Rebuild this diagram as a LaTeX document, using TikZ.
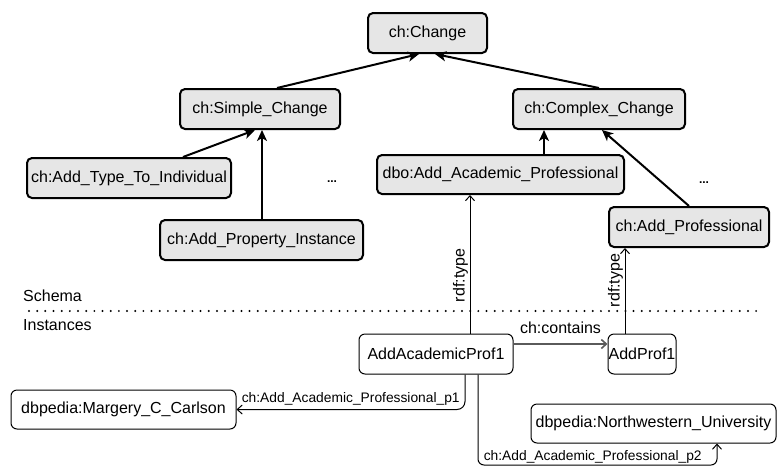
\documentclass[tikz,border=0pt]{standalone}
\usepackage{fontspec}
\setmainfont{Liberation Sans}
\usetikzlibrary{arrows.meta}

\definecolor{schemafill}{HTML}{E6E6E6}
\definecolor{containsgray}{HTML}{5A5A5A}

\tikzset{
  base/.style={inner sep=0pt, align=center, font=\fontsize{16}{19}\selectfont},
  schemabox/.style={base, rounded corners=5pt, draw=black, line width=2pt, fill=schemafill},
  instbox/.style={base, rounded corners=6pt, draw=black, line width=1pt, fill=white},
  isa/.style={line width=2pt, -{Stealth[length=11pt,width=10pt,inset=3pt]}},
  rel/.style={line width=1pt, -{Straight Barb[length=5pt,width=9pt]}},
  containsedge/.style={line width=1.6pt, draw=containsgray, -{Straight Barb[length=5pt,width=9pt]}},
  lbl/.style={inner sep=0pt, font=\fontsize{16}{19}\selectfont},
  smalllbl/.style={inner sep=0pt, font=\fontsize{13.8}{16}\selectfont},
  more/.style={inner sep=0pt, font=\bfseries\fontsize{12}{14}\selectfont},
  sepline/.style={line width=2.2pt, line cap=round, dash pattern=on 0pt off 8.17pt},
}

\begin{document}
\begin{tikzpicture}[x=1pt, y=-1pt]
  \useasboundingbox (0,0) rectangle (777,467);

  % schema level
  \node[schemabox, minimum width=119pt, minimum height=40pt] (change)  at (427.5,33)  {ch:Change};
  \node[schemabox, minimum width=160pt, minimum height=40pt] (simple)  at (260,109)   {ch:Simple\_Change};
  \node[schemabox, minimum width=172pt, minimum height=40pt] (complex) at (599,109)   {ch:Complex\_Change};
  \node[schemabox, minimum width=204pt, minimum height=40pt] (addtype) at (129,178)   {ch:Add\_Type\_To\_Individual};
  \node[schemabox, minimum width=203pt, minimum height=40pt] (addprop) at (261.5,240) {ch:Add\_Property\_Instance};
  \node[schemabox, minimum width=247pt, minimum height=39pt] (acad)    at (500.5,174.5) {dbo:Add\_Academic\_Professional};
  \node[schemabox, minimum width=160pt, minimum height=40pt] (addprof) at (689,227)   {ch:Add\_Professional};

  \node[more] (more1) at (332,182) {...};
  \node[more] (more2) at (704,183) {...};

  % subclass links
  \draw[isa] ([xshift=17pt]simple.north) -- ([xshift=-8.5pt]change.south);
  \draw[isa] (complex.north) -- ([xshift=7.5pt]change.south);
  \draw[isa] ([xshift=54pt]addtype.north) -- ([xshift=-5pt]simple.south);
  \draw[isa] ([xshift=0.5pt]addprop.north) -- ([xshift=2pt]simple.south);
  \draw[isa] ([xshift=43.5pt]acad.north) -- ([xshift=-55pt]complex.south);
  \draw[isa] (addprof.north) -- ([xshift=3pt]complex.south);

  % separator between schema and instances
  \node[lbl, anchor=west] (schemalbl) at (23,296) {Schema};
  \node[lbl, anchor=west] (instlbl)   at (23,325) {Instances};
  \coordinate (sepL) at (29,311);
  \coordinate (sepR) at (762,311);
  \draw[sepline] (sepL) -- (sepR);

  % instance level
  \node[instbox, minimum width=154pt, minimum height=40pt] (aap1)     at (436,354)   {AddAcademicProf1};
  \node[instbox, minimum width=68pt,  minimum height=40pt] (ap1)      at (642,354)   {AddProf1};
  \node[instbox, minimum width=225pt, minimum height=39pt] (margery)  at (123.5,409.5) {dbpedia:Margery\_C\_Carlson};
  \node[instbox, minimum width=245pt, minimum height=39pt] (nwu)      at (653.5,423.5) {dbpedia:Northwestern\_University};

  \draw[rel] ([xshift=34pt]aap1.north) -- node[lbl, rotate=90, anchor=south, pos=0.42, yshift=1.5pt] {rdf:type}
             ([xshift=34pt]aap1.north |- acad.south);
  \draw[rel] ([xshift=-17pt]ap1.north) -- node[lbl, rotate=90, anchor=south, pos=0.62, yshift=1.5pt] {rdf:type}
             ([xshift=-17pt]ap1.north |- addprof.south);

  \draw[containsedge] ([yshift=10pt]aap1.east) -- node[lbl, above=10pt] {ch:contains}
                      ([yshift=10pt]aap1.east -| ap1.west);

  \draw[rel, rounded corners=8pt] ([xshift=29pt]aap1.south) |-
        node[smalllbl, pos=0.75, above=4pt] {ch:Add\_Academic\_Professional\_p1} (margery.east);

  \coordinate (p2turn) at (717,465);
  \draw[rel, rounded corners=6pt] ([xshift=42pt]aap1.south) |-
        node[smalllbl, pos=0.74, above=1.5pt] {ch:Add\_Academic\_Professional\_p2} (p2turn)
        -- ([xshift=63.5pt]nwu.south);
\end{tikzpicture}
\end{document}
